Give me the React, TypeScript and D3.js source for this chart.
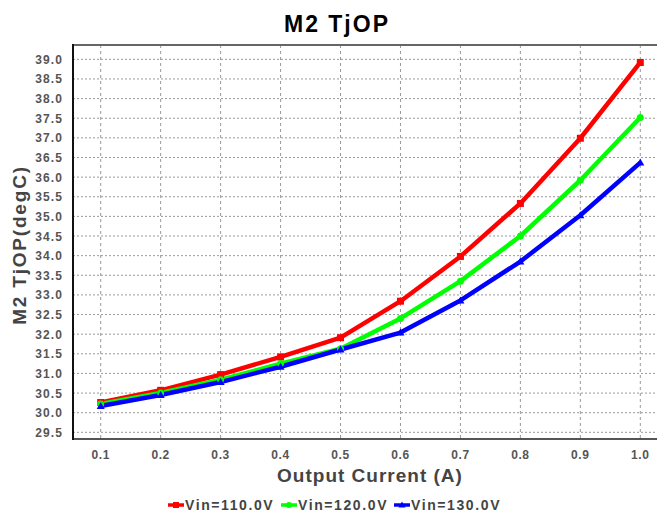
import { useRef, useEffect } from 'react';
import * as d3 from 'd3';

const FONT = '"Liberation Sans", Arial, sans-serif';

const currents = [0.1, 0.2, 0.3, 0.4, 0.5, 0.6, 0.7, 0.8, 0.9, 1.0];
const vin110 = [30.26, 30.57, 30.97, 31.42, 31.91, 32.84, 33.98, 35.33, 36.99, 38.92];
const vin120 = [30.22, 30.5, 30.84, 31.25, 31.63, 32.4, 33.35, 34.5, 35.92, 37.52];
const vin130 = [30.17, 30.45, 30.78, 31.17, 31.61, 32.04, 32.86, 33.85, 35.03, 36.37];
const yTicks = [29.5, 30, 30.5, 31, 31.5, 32, 32.5, 33, 33.5, 34, 34.5, 35, 35.5, 36, 36.5, 37, 37.5, 38, 38.5, 39];

const SERIES = [
  { name: 'Vin=110.0V', values: vin110, color: '#ff0000', marker: 'square' },
  { name: 'Vin=120.0V', values: vin120, color: '#00ff00', marker: 'circle' },
  { name: 'Vin=130.0V', values: vin130, color: '#0000ff', marker: 'triangle' },
];

const W = 657;
const H = 514;

export default function App() {
  const svgRef = useRef<SVGSVGElement>(null);

  useEffect(() => {
    document.body.style.margin = '0';
    const svg = d3.select(svgRef.current);
    svg.selectAll('*').remove();

    const left = 73, top = 45, right = 668, bottom = 439;
    const x = d3.scaleLinear().domain([0.0538, 1.0462]).range([left, right]);
    const y = d3.scaleLinear().domain([29.33, 39.365]).range([bottom, top]);

    svg.append('rect').attr('width', W).attr('height', H).attr('fill', '#fff');

    // grid
    const grid = svg.append('g');
    yTicks.forEach(t => {
      grid.append('line')
        .attr('x1', left).attr('x2', right)
        .attr('y1', y(t)).attr('y2', y(t))
        .attr('stroke', '#999').attr('stroke-width', 1)
        .attr('stroke-dasharray', '2 2');
    });
    currents.forEach(c => {
      grid.append('line')
        .attr('x1', x(c)).attr('x2', x(c))
        .attr('y1', top).attr('y2', bottom)
        .attr('stroke', '#999').attr('stroke-width', 1)
        .attr('stroke-dasharray', '3 3');
    });

    // frame
    svg.append('line').attr('x1', left).attr('x2', W).attr('y1', top).attr('y2', top)
      .attr('stroke', '#666').attr('stroke-width', 2);
    svg.append('line').attr('x1', left).attr('x2', W).attr('y1', bottom).attr('y2', bottom)
      .attr('stroke', '#555').attr('stroke-width', 2);
    svg.append('line').attr('x1', left).attr('x2', left).attr('y1', top - 1).attr('y2', bottom + 1)
      .attr('stroke', '#111').attr('stroke-width', 2);

    // tick labels
    yTicks.forEach(t => {
      svg.append('text')
        .attr('x', 63).attr('y', y(t) + 4.5)
        .attr('text-anchor', 'end')
        .attr('font-family', FONT).attr('font-weight', 'bold').attr('font-size', 12)
        .attr('letter-spacing', 1.1)
        .attr('fill', '#555')
        .text(t.toFixed(1));
    });
    currents.forEach(c => {
      svg.append('text')
        .attr('x', x(c)).attr('y', 459)
        .attr('text-anchor', 'middle')
        .attr('font-family', FONT).attr('font-weight', 'bold').attr('font-size', 12)
        .attr('letter-spacing', 0.6)
        .attr('fill', '#555')
        .text(c.toFixed(1));
    });

    // lines
    const line = d3.line<number>()
      .x((_, i) => x(currents[i]))
      .y(d => y(d));

    SERIES.forEach(s => {
      svg.append('path')
        .attr('d', line(s.values))
        .attr('fill', 'none')
        .attr('stroke', s.color)
        .attr('stroke-width', 4.5)
        .attr('stroke-linejoin', 'round');
    });
    SERIES.forEach(s => {
      s.values.forEach((v, i) => {
        const cx = x(currents[i]), cy = y(v);
        if (s.marker === 'square') {
          svg.append('rect').attr('x', cx - 3.5).attr('y', cy - 3.5).attr('width', 7).attr('height', 7).attr('fill', s.color);
        } else if (s.marker === 'circle') {
          svg.append('circle').attr('cx', cx).attr('cy', cy).attr('r', 3.5).attr('fill', s.color);
        } else {
          svg.append('path').attr('d', `M${cx},${cy - 4}L${cx + 4},${cy + 3}L${cx - 4},${cy + 3}Z`).attr('fill', s.color);
        }
      });
    });

    // title
    svg.append('text')
      .attr('x', 337).attr('y', 32)
      .attr('text-anchor', 'middle')
      .attr('font-family', FONT).attr('font-weight', 'bold').attr('font-size', 23)
      .attr('letter-spacing', 2)
      .attr('fill', '#000')
      .text('M2 TjOP');

    // axis titles
    svg.append('text')
      .attr('x', 370).attr('y', 482)
      .attr('text-anchor', 'middle')
      .attr('font-family', FONT).attr('font-weight', 'bold').attr('font-size', 19)
      .attr('letter-spacing', 1)
      .attr('fill', '#444')
      .text('Output Current (A)');
    svg.append('text')
      .attr('transform', `translate(26,245) rotate(-90)`)
      .attr('text-anchor', 'middle')
      .attr('font-family', FONT).attr('font-weight', 'bold').attr('font-size', 19)
      .attr('letter-spacing', 1.8)
      .attr('fill', '#444')
      .text('M2 TjOP(degC)');

    // legend
    const legendX = [168, 281, 394];
    SERIES.forEach((s, i) => {
      const lx = legendX[i];
      const g = svg.append('g').attr('transform', `translate(${lx},505)`);
      g.append('line').attr('x1', 0).attr('x2', 16).attr('y1', 0).attr('y2', 0)
        .attr('stroke', s.color).attr('stroke-width', 3.5);
      if (s.marker === 'square') {
        g.append('rect').attr('x', 5).attr('y', -3).attr('width', 6).attr('height', 6).attr('fill', s.color);
      } else if (s.marker === 'circle') {
        g.append('circle').attr('cx', 8).attr('cy', 0).attr('r', 3).attr('fill', s.color);
      } else {
        g.append('path').attr('d', 'M8,-3.5L11.5,2.5L4.5,2.5Z').attr('fill', s.color);
      }
      g.append('text')
        .attr('x', 17).attr('y', 5)
        .attr('font-family', FONT).attr('font-weight', 'bold').attr('font-size', 14)
        .attr('letter-spacing', 1.6)
        .attr('fill', '#444')
        .text(s.name);
    });
  }, []);

  return (
    <svg ref={svgRef} width={W} height={H} style={{ position: 'absolute', left: 0, top: 0, display: 'block' }} />
  );
}
